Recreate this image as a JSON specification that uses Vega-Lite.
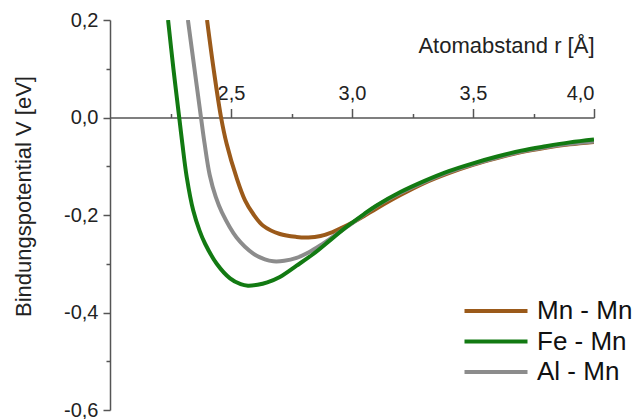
{
  "$schema": "https://vega.github.io/schema/vega-lite/v6.json",
  "width": 484,
  "height": 390,
  "autosize": {"type": "none"},
  "padding": {"left": 110, "top": 20, "right": 48, "bottom": 9},
  "background": "white",
  "config": {
    "view": {"stroke": null},
    "axis": {
      "grid": false,
      "labelFont": "Liberation Sans",
      "titleFont": "Liberation Sans",
      "labelFontSize": 20,
      "titleFontSize": 22,
      "titleFontWeight": "normal",
      "domainColor": "#555555",
      "tickColor": "#555555",
      "domainWidth": 1.5,
      "tickWidth": 1.5,
      "labelColor": "#222222",
      "titleColor": "#222222"
    }
  },
  "data": {
    "values": [
      {"pair": "Mn - Mn", "r": 2.401, "V": 0.2},
      {"pair": "Mn - Mn", "r": 2.428, "V": 0.1},
      {"pair": "Mn - Mn", "r": 2.459, "V": 0.0},
      {"pair": "Mn - Mn", "r": 2.482, "V": -0.054},
      {"pair": "Mn - Mn", "r": 2.522, "V": -0.122},
      {"pair": "Mn - Mn", "r": 2.558, "V": -0.17},
      {"pair": "Mn - Mn", "r": 2.592, "V": -0.198},
      {"pair": "Mn - Mn", "r": 2.633, "V": -0.222},
      {"pair": "Mn - Mn", "r": 2.702, "V": -0.239},
      {"pair": "Mn - Mn", "r": 2.771, "V": -0.245},
      {"pair": "Mn - Mn", "r": 2.82, "V": -0.246},
      {"pair": "Mn - Mn", "r": 2.87, "V": -0.243},
      {"pair": "Mn - Mn", "r": 2.92, "V": -0.235},
      {"pair": "Mn - Mn", "r": 2.96, "V": -0.226},
      {"pair": "Mn - Mn", "r": 3.0, "V": -0.216},
      {"pair": "Mn - Mn", "r": 3.05, "V": -0.202},
      {"pair": "Mn - Mn", "r": 3.1, "V": -0.187},
      {"pair": "Mn - Mn", "r": 3.2, "V": -0.159},
      {"pair": "Mn - Mn", "r": 3.3, "V": -0.134},
      {"pair": "Mn - Mn", "r": 3.4, "V": -0.114},
      {"pair": "Mn - Mn", "r": 3.5, "V": -0.097},
      {"pair": "Mn - Mn", "r": 3.6, "V": -0.083},
      {"pair": "Mn - Mn", "r": 3.7, "V": -0.071},
      {"pair": "Mn - Mn", "r": 3.8, "V": -0.062},
      {"pair": "Mn - Mn", "r": 3.9, "V": -0.055},
      {"pair": "Mn - Mn", "r": 4.0, "V": -0.05},
      {"pair": "Al - Mn", "r": 2.322, "V": 0.2},
      {"pair": "Al - Mn", "r": 2.349, "V": 0.1},
      {"pair": "Al - Mn", "r": 2.376, "V": 0.0},
      {"pair": "Al - Mn", "r": 2.391, "V": -0.054},
      {"pair": "Al - Mn", "r": 2.412, "V": -0.118},
      {"pair": "Al - Mn", "r": 2.437, "V": -0.163},
      {"pair": "Al - Mn", "r": 2.462, "V": -0.194},
      {"pair": "Al - Mn", "r": 2.523, "V": -0.246},
      {"pair": "Al - Mn", "r": 2.592, "V": -0.279},
      {"pair": "Al - Mn", "r": 2.64, "V": -0.291},
      {"pair": "Al - Mn", "r": 2.675, "V": -0.295},
      {"pair": "Al - Mn", "r": 2.72, "V": -0.294},
      {"pair": "Al - Mn", "r": 2.771, "V": -0.288},
      {"pair": "Al - Mn", "r": 2.82, "V": -0.277},
      {"pair": "Al - Mn", "r": 2.87, "V": -0.262},
      {"pair": "Al - Mn", "r": 2.92, "V": -0.245},
      {"pair": "Al - Mn", "r": 2.96, "V": -0.231},
      {"pair": "Al - Mn", "r": 3.0, "V": -0.217},
      {"pair": "Al - Mn", "r": 3.05, "V": -0.199},
      {"pair": "Al - Mn", "r": 3.1, "V": -0.182},
      {"pair": "Al - Mn", "r": 3.2, "V": -0.155},
      {"pair": "Al - Mn", "r": 3.3, "V": -0.132},
      {"pair": "Al - Mn", "r": 3.4, "V": -0.112},
      {"pair": "Al - Mn", "r": 3.5, "V": -0.096},
      {"pair": "Al - Mn", "r": 3.6, "V": -0.082},
      {"pair": "Al - Mn", "r": 3.7, "V": -0.07},
      {"pair": "Al - Mn", "r": 3.8, "V": -0.061},
      {"pair": "Al - Mn", "r": 3.9, "V": -0.054},
      {"pair": "Al - Mn", "r": 4.0, "V": -0.049},
      {"pair": "Fe - Mn", "r": 2.24, "V": 0.2},
      {"pair": "Fe - Mn", "r": 2.262, "V": 0.1},
      {"pair": "Fe - Mn", "r": 2.286, "V": 0.0},
      {"pair": "Fe - Mn", "r": 2.299, "V": -0.054},
      {"pair": "Fe - Mn", "r": 2.317, "V": -0.122},
      {"pair": "Fe - Mn", "r": 2.344, "V": -0.191},
      {"pair": "Fe - Mn", "r": 2.37, "V": -0.232},
      {"pair": "Fe - Mn", "r": 2.393, "V": -0.259},
      {"pair": "Fe - Mn", "r": 2.441, "V": -0.3},
      {"pair": "Fe - Mn", "r": 2.496, "V": -0.33},
      {"pair": "Fe - Mn", "r": 2.54, "V": -0.342},
      {"pair": "Fe - Mn", "r": 2.57, "V": -0.345},
      {"pair": "Fe - Mn", "r": 2.61, "V": -0.343},
      {"pair": "Fe - Mn", "r": 2.65, "V": -0.338},
      {"pair": "Fe - Mn", "r": 2.702, "V": -0.327},
      {"pair": "Fe - Mn", "r": 2.771, "V": -0.304},
      {"pair": "Fe - Mn", "r": 2.84, "V": -0.28},
      {"pair": "Fe - Mn", "r": 2.909, "V": -0.252},
      {"pair": "Fe - Mn", "r": 2.96, "V": -0.231},
      {"pair": "Fe - Mn", "r": 3.0, "V": -0.216},
      {"pair": "Fe - Mn", "r": 3.05, "V": -0.198},
      {"pair": "Fe - Mn", "r": 3.1, "V": -0.181},
      {"pair": "Fe - Mn", "r": 3.2, "V": -0.153},
      {"pair": "Fe - Mn", "r": 3.3, "V": -0.13},
      {"pair": "Fe - Mn", "r": 3.4, "V": -0.11},
      {"pair": "Fe - Mn", "r": 3.5, "V": -0.094},
      {"pair": "Fe - Mn", "r": 3.6, "V": -0.08},
      {"pair": "Fe - Mn", "r": 3.7, "V": -0.068},
      {"pair": "Fe - Mn", "r": 3.8, "V": -0.059},
      {"pair": "Fe - Mn", "r": 3.9, "V": -0.051},
      {"pair": "Fe - Mn", "r": 4.0, "V": -0.045}
    ]
  },
  "layer": [
    {
      "mark": {"type": "line", "interpolate": "catmull-rom", "strokeWidth": 4, "clip": true},
      "encoding": {
        "x": {
          "field": "r", "type": "quantitative",
          "scale": {"domain": [2, 4], "nice": false, "zero": false},
          "axis": {
            "orient": "top", "offset": -97.5,
            "values": [2.5, 3, 3.5, 4],
            "tickSize": 9, "labelPadding": 5,
            "labelExpr": "replace(format(datum.value, '.1f'), '.', ',')",
            "title": "Atomabstand r [Å]",
            "titleAnchor": "end", "titlePadding": 26
          }
        },
        "y": {
          "field": "V", "type": "quantitative",
          "scale": {"domain": [-0.6, 0.2], "nice": false, "zero": false},
          "axis": {
            "orient": "left",
            "values": [-0.6, -0.4, -0.2, 0, 0.2],
            "tickSize": 7, "labelPadding": 5,
            "labelExpr": "replace(replace(format(datum.value, '.1f'), '.', ','), '\u2212', '-')",
            "title": "Bindungspotential V [eV]",
            "titleY": 176, "titlePadding": 28
          }
        },
        "color": {
          "field": "pair", "type": "nominal",
          "scale": {"domain": ["Mn - Mn", "Fe - Mn", "Al - Mn"], "range": ["#9b5a1a", "#127a12", "#8c8c8c"]},
          "legend": {
            "orient": "none", "legendX": 352, "legendY": 278,
            "title": null,
            "symbolType": "M-1,0H5", "symbolSize": 441, "symbolStrokeWidth": 4,
            "labelFont": "Liberation Sans", "labelFontSize": 26, "labelColor": "#111111",
            "labelOffset": 49, "rowPadding": 4.5
          }
        }
      }
    },
    {
      "mark": {"type": "line", "opacity": 0},
      "encoding": {
        "x": {
          "field": "r", "type": "quantitative",
          "axis": {"orient": "top", "offset": -97.5, "values": [2.25, 2.75, 3.25, 3.75], "tickSize": 4, "labels": false, "domain": false, "title": null}
        },
        "y": {
          "field": "V", "type": "quantitative",
          "axis": {"orient": "left", "values": [-0.5, -0.3, -0.1, 0.1], "tickSize": 4, "labels": false, "domain": false, "title": null}
        },
        "detail": {"field": "pair"}
      }
    }
  ],
  "resolve": {"axis": {"x": "independent", "y": "independent"}}
}
